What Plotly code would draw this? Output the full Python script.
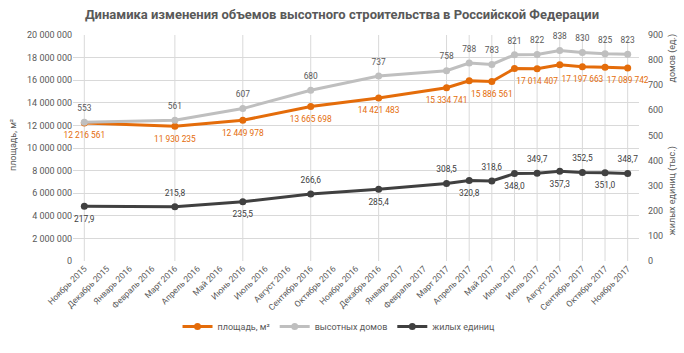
import plotly.graph_objects as go

months = ["Ноябрь 2015", "Декабрь 2015", "Январь 2016", "Февраль 2016", "Март 2016",
          "Апрель 2016", "Май 2016", "Июнь 2016", "Июль 2016", "Август 2016",
          "Сентябрь 2016", "Октябрь 2016", "Ноябрь 2016", "Декабрь 2016", "Январь 2017",
          "Февраль 2017", "Март 2017", "Апрель 2017", "Май 2017", "Июнь 2017",
          "Июль 2017", "Август 2017", "Сентябрь 2017", "Октябрь 2017", "Ноябрь 2017"]

data_months = ["Ноябрь 2015", "Март 2016", "Июнь 2016", "Сентябрь 2016", "Декабрь 2016",
               "Март 2017", "Апрель 2017", "Май 2017", "Июнь 2017", "Июль 2017",
               "Август 2017", "Сентябрь 2017", "Октябрь 2017", "Ноябрь 2017"]

area = [12216561, 11930235, 12449978, 13665698, 14421483, 15334741, 15950000,
        15886561, 17030000, 17014407, 17370000, 17197663, 17140000, 17089742]
houses = [553, 561, 607, 680, 737, 758, 788, 783, 821, 822, 838, 830, 825, 823]
units = [217.9, 215.8, 235.5, 266.6, 285.4, 308.5, 320.8, 318.6, 348.0, 349.7,
         357.3, 352.5, 351.0, 348.7]

area_labelled = ["Ноябрь 2015", "Март 2016", "Июнь 2016", "Сентябрь 2016", "Декабрь 2016",
                 "Март 2017", "Май 2017", "Июль 2017", "Сентябрь 2017", "Ноябрь 2017"]

ORANGE = "#E46C0A"
GREY = "#BFBFBF"
DARK = "#404040"
TXT = "#595959"
GRID = "#D9D9D9"
FONT = "Roboto, Liberation Sans, sans-serif"


def fmt_int(v):
    return f"{v:,}".replace(",", " ")


def fmt_dec(v):
    return f"{v:.1f}".replace(".", ",")


area_text = [fmt_int(v) if m in area_labelled else "" for m, v in zip(data_months, area)]
house_text = [str(v) for v in houses]
unit_text = [fmt_dec(v) for v in units]
unit_pos = ["bottom center" if i % 2 == 0 else "top center" for i in range(len(units))]

fig = go.Figure()

series = [
    ("площадь, м²", area, "y", ORANGE, area_text, "bottom center", ORANGE),
    ("высотных домов", houses, "y2", GREY, house_text, "top center", TXT),
    ("жилых единиц", units, "y2", DARK, unit_text, unit_pos, DARK),
]

for name, vals, yax, col, txt, pos, tcol in series:
    fig.add_trace(go.Scatter(
        x=data_months, y=vals, name=name, mode="lines+markers", yaxis=yax,
        line=dict(color=col, width=3), marker=dict(size=7, color=col),
    ))

for name, vals, yax, col, txt, pos, tcol in series:
    fig.add_trace(go.Scatter(
        x=data_months, y=vals, mode="markers+text", yaxis=yax, showlegend=False,
        hoverinfo="skip", marker=dict(size=13, color=col, opacity=0),
        text=txt, textposition=pos, cliponaxis=False,
        textfont=dict(color=tcol, size=8.4, family=FONT),
    ))

for m in data_months:
    fig.add_shape(type="line", xref="x", yref="paper", x0=m, x1=m, y0=0, y1=1,
                  line=dict(color=GRID, width=1), layer="below")

fig.update_layout(
    width=684, height=353,
    margin=dict(l=73, r=45, t=35, b=81),
    paper_bgcolor="white", plot_bgcolor="white",
    separators=", ",
    font=dict(family=FONT, size=9, color=TXT),
    showlegend=True,
    legend=dict(orientation="h", x=0.47, xanchor="center", y=-0.29, yanchor="middle",
                font=dict(size=9, color=TXT), itemwidth=30),
    title=dict(text="<b>Динамика изменения объемов высотного строительства в Российской Федерации</b>",
               x=0.5, xanchor="center", y=1 - 14 / 353, yanchor="middle",
               font=dict(size=13, color=TXT, family=FONT)),
    xaxis=dict(type="category", categoryorder="array", categoryarray=months,
               tickvals=months, ticktext=months, range=[-0.5, 24.5],
               tickangle=-45, showgrid=False, zeroline=False, showline=False,
               ticks="", tickfont=dict(size=8.5, color=TXT)),
    yaxis=dict(range=[0, 20000000], dtick=2000000, tickformat=",d",
               showgrid=True, gridcolor=GRID, zeroline=False, showline=False,
               ticks="", tickfont=dict(size=9, color=TXT)),
    yaxis2=dict(overlaying="y", side="right", range=[0, 900], dtick=100,
                showgrid=False, zeroline=False, showline=False, ticks="",
                ticklabelstandoff=8, tickfont=dict(size=9, color=TXT)),
)

fig.add_annotation(text="площадь, м²", xref="paper", yref="paper",
                   x=-0.107, y=0.515, textangle=-90, showarrow=False,
                   xanchor="center", yanchor="middle", font=dict(size=9, color=TXT))
fig.add_annotation(text="домов (ед.)", xref="paper", yref="paper",
                   x=1.0595, y=0.899, textangle=-90, showarrow=False,
                   xanchor="center", yanchor="middle", font=dict(size=9, color=TXT))
fig.add_annotation(text="жилых единиц (тыс.)", xref="paper", yref="paper",
                   x=1.0595, y=0.312, textangle=-90, showarrow=False,
                   xanchor="center", yanchor="middle", font=dict(size=9, color=TXT))

fig.write_html("out.html")
